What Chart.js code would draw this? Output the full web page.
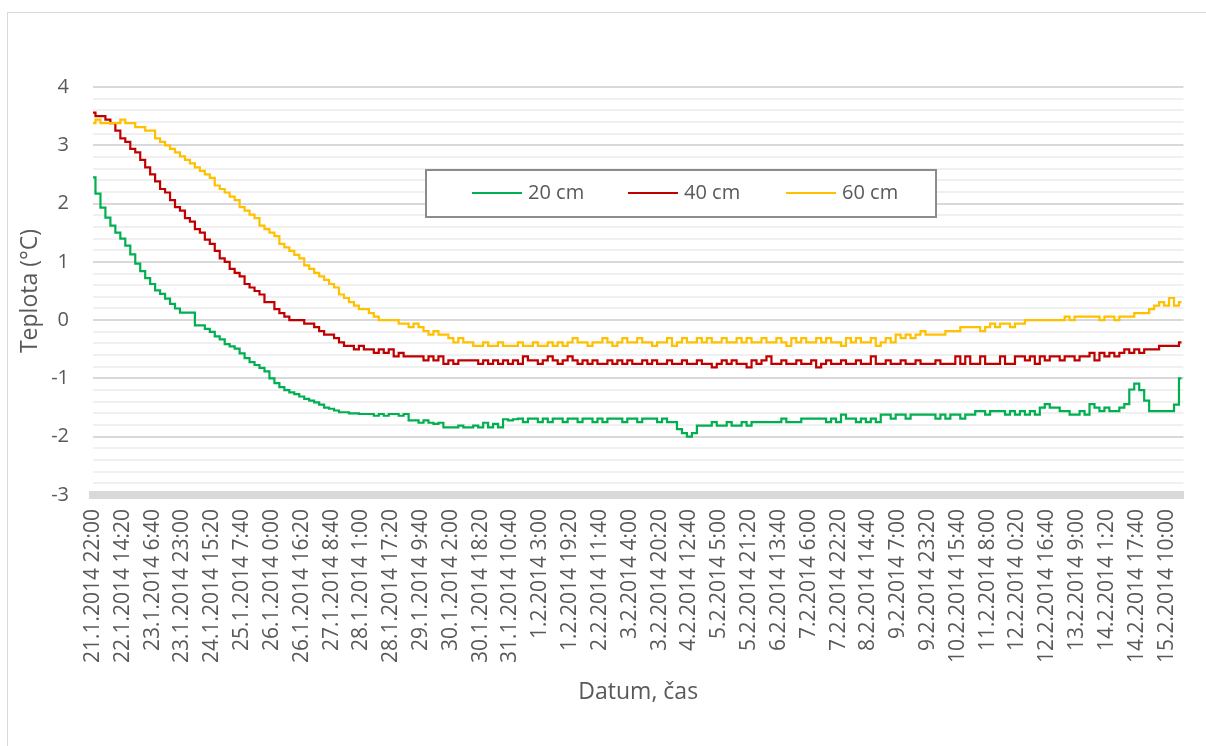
<!DOCTYPE html>
<html>
<head>
<meta charset="utf-8">
<title>Teplota půdy</title>
<script src="https://cdn.jsdelivr.net/npm/chart.js@4.4.1/dist/chart.umd.min.js"></script>
<style>
  html, body { margin: 0; padding: 0; background: #fff; }
  canvas { display: block; }
</style>
</head>
<body>
<canvas id="tempChart" width="1206" height="746"></canvas>
<script>
  // x-axis labels, one every 16 h 20 min
  const tickLabels = [
      '21.1.2014 22:00', '22.1.2014 14:20', '23.1.2014 6:40', '23.1.2014 23:00',
      '24.1.2014 15:20', '25.1.2014 7:40', '26.1.2014 0:00', '26.1.2014 16:20',
      '27.1.2014 8:40', '28.1.2014 1:00', '28.1.2014 17:20', '29.1.2014 9:40',
      '30.1.2014 2:00', '30.1.2014 18:20', '31.1.2014 10:40', '1.2.2014 3:00',
      '1.2.2014 19:20', '2.2.2014 11:40', '3.2.2014 4:00', '3.2.2014 20:20',
      '4.2.2014 12:40', '5.2.2014 5:00', '5.2.2014 21:20', '6.2.2014 13:40',
      '7.2.2014 6:00', '7.2.2014 22:20', '8.2.2014 14:40', '9.2.2014 7:00',
      '9.2.2014 23:20', '10.2.2014 15:40', '11.2.2014 8:00', '12.2.2014 0:20',
      '12.2.2014 16:40', '13.2.2014 9:00', '14.2.2014 1:20', '14.2.2014 17:40',
      '15.2.2014 10:00'
  ];

  // readings per label interval
  const samplesPerTick = 6;

  const seriesNames = ['20 cm', '40 cm', '60 cm'];
  const seriesColors = ['#00b050', '#c00000', '#ffc000'];

  // 20 cm
  const depth20 = [
      2.45, 2.17, 1.93, 1.76, 1.62, 1.50,
      1.40, 1.28, 1.13, 0.97, 0.84, 0.72,
      0.62, 0.51, 0.45, 0.37, 0.28, 0.20,
      0.13, 0.13, 0.13, -0.09, -0.09, -0.15,
      -0.20, -0.28, -0.33, -0.41, -0.45, -0.49,
      -0.57, -0.65, -0.72, -0.77, -0.82, -0.88,
      -1.00, -1.08, -1.15, -1.20, -1.24, -1.27,
      -1.31, -1.35, -1.38, -1.41, -1.45, -1.50,
      -1.52, -1.55, -1.58, -1.58, -1.60, -1.60,
      -1.61, -1.61, -1.61, -1.64, -1.61, -1.64,
      -1.61, -1.61, -1.64, -1.61, -1.72, -1.72,
      -1.76, -1.72, -1.76, -1.78, -1.76, -1.84,
      -1.84, -1.84, -1.81, -1.84, -1.84, -1.81,
      -1.84, -1.76, -1.84, -1.78, -1.84, -1.70,
      -1.72, -1.70, -1.69, -1.75, -1.69, -1.69,
      -1.75, -1.69, -1.75, -1.69, -1.69, -1.75,
      -1.69, -1.69, -1.75, -1.69, -1.69, -1.75,
      -1.69, -1.75, -1.69, -1.69, -1.69, -1.75,
      -1.69, -1.69, -1.75, -1.69, -1.69, -1.69,
      -1.75, -1.69, -1.75, -1.75, -1.87, -1.94,
      -2.00, -1.94, -1.81, -1.81, -1.81, -1.75,
      -1.81, -1.81, -1.75, -1.81, -1.81, -1.75,
      -1.81, -1.75, -1.75, -1.75, -1.75, -1.75,
      -1.75, -1.69, -1.75, -1.75, -1.75, -1.69,
      -1.69, -1.69, -1.69, -1.69, -1.75, -1.69,
      -1.75, -1.62, -1.69, -1.69, -1.75, -1.69,
      -1.75, -1.69, -1.75, -1.62, -1.62, -1.69,
      -1.62, -1.62, -1.69, -1.62, -1.62, -1.62,
      -1.62, -1.62, -1.69, -1.62, -1.69, -1.62,
      -1.62, -1.69, -1.62, -1.62, -1.56, -1.56,
      -1.62, -1.56, -1.56, -1.56, -1.62, -1.56,
      -1.62, -1.56, -1.62, -1.56, -1.62, -1.50,
      -1.44, -1.50, -1.50, -1.56, -1.56, -1.62,
      -1.62, -1.56, -1.62, -1.44, -1.50, -1.56,
      -1.50, -1.56, -1.56, -1.50, -1.44, -1.19,
      -1.09, -1.20, -1.38, -1.56, -1.56, -1.56,
      -1.56, -1.56, -1.45, -1.00
  ];

  // 40 cm
  const depth40 = [
      3.56, 3.50, 3.50, 3.44, 3.38, 3.25,
      3.12, 3.06, 2.94, 2.88, 2.75, 2.62,
      2.50, 2.38, 2.25, 2.19, 2.06, 1.94,
      1.88, 1.75, 1.69, 1.56, 1.50, 1.38,
      1.31, 1.19, 1.06, 1.00, 0.88, 0.81,
      0.75, 0.62, 0.56, 0.50, 0.44, 0.31,
      0.31, 0.19, 0.12, 0.06, 0.00, 0.00,
      0.00, -0.06, -0.06, -0.12, -0.19, -0.25,
      -0.25, -0.31, -0.38, -0.44, -0.44, -0.50,
      -0.44, -0.50, -0.50, -0.56, -0.50, -0.56,
      -0.50, -0.62, -0.56, -0.62, -0.62, -0.62,
      -0.62, -0.69, -0.62, -0.69, -0.62, -0.75,
      -0.69, -0.75, -0.69, -0.69, -0.69, -0.69,
      -0.75, -0.69, -0.75, -0.69, -0.75, -0.69,
      -0.75, -0.69, -0.75, -0.62, -0.69, -0.69,
      -0.75, -0.69, -0.62, -0.69, -0.75, -0.69,
      -0.62, -0.69, -0.75, -0.69, -0.75, -0.69,
      -0.75, -0.75, -0.69, -0.75, -0.69, -0.75,
      -0.69, -0.75, -0.75, -0.69, -0.75, -0.69,
      -0.75, -0.75, -0.69, -0.75, -0.75, -0.69,
      -0.75, -0.75, -0.69, -0.75, -0.75, -0.81,
      -0.75, -0.69, -0.75, -0.69, -0.75, -0.75,
      -0.81, -0.69, -0.75, -0.69, -0.62, -0.75,
      -0.75, -0.69, -0.75, -0.75, -0.69, -0.75,
      -0.75, -0.69, -0.81, -0.75, -0.69, -0.75,
      -0.75, -0.69, -0.75, -0.75, -0.69, -0.75,
      -0.75, -0.62, -0.75, -0.75, -0.69, -0.75,
      -0.75, -0.69, -0.75, -0.75, -0.69, -0.75,
      -0.75, -0.75, -0.69, -0.75, -0.75, -0.75,
      -0.62, -0.75, -0.62, -0.75, -0.75, -0.62,
      -0.75, -0.75, -0.75, -0.62, -0.75, -0.75,
      -0.62, -0.62, -0.69, -0.62, -0.75, -0.62,
      -0.69, -0.62, -0.62, -0.69, -0.62, -0.62,
      -0.69, -0.62, -0.62, -0.56, -0.69, -0.56,
      -0.62, -0.56, -0.62, -0.56, -0.50, -0.56,
      -0.50, -0.56, -0.50, -0.50, -0.50, -0.44,
      -0.44, -0.44, -0.44, -0.38
  ];

  // 60 cm
  const depth60 = [
      3.38, 3.44, 3.38, 3.38, 3.38, 3.38,
      3.44, 3.38, 3.38, 3.31, 3.31, 3.25,
      3.25, 3.12, 3.06, 3.00, 2.94, 2.88,
      2.81, 2.75, 2.69, 2.62, 2.56, 2.50,
      2.44, 2.31, 2.25, 2.19, 2.12, 2.06,
      1.94, 1.88, 1.81, 1.75, 1.62, 1.56,
      1.50, 1.44, 1.31, 1.25, 1.19, 1.12,
      1.06, 0.94, 0.88, 0.81, 0.75, 0.69,
      0.62, 0.56, 0.44, 0.38, 0.31, 0.25,
      0.19, 0.19, 0.12, 0.06, 0.00, 0.00,
      0.00, 0.00, -0.06, -0.06, -0.12, -0.06,
      -0.12, -0.19, -0.25, -0.19, -0.25, -0.25,
      -0.31, -0.38, -0.31, -0.38, -0.38, -0.44,
      -0.44, -0.38, -0.44, -0.44, -0.38, -0.44,
      -0.44, -0.44, -0.38, -0.44, -0.44, -0.38,
      -0.44, -0.44, -0.38, -0.44, -0.38, -0.44,
      -0.38, -0.31, -0.38, -0.38, -0.44, -0.38,
      -0.38, -0.31, -0.38, -0.44, -0.38, -0.31,
      -0.38, -0.38, -0.31, -0.38, -0.38, -0.44,
      -0.38, -0.38, -0.31, -0.44, -0.38, -0.31,
      -0.38, -0.38, -0.31, -0.38, -0.31, -0.38,
      -0.38, -0.31, -0.38, -0.38, -0.31, -0.38,
      -0.31, -0.38, -0.38, -0.31, -0.38, -0.38,
      -0.31, -0.38, -0.44, -0.31, -0.38, -0.31,
      -0.38, -0.38, -0.31, -0.38, -0.31, -0.38,
      -0.38, -0.44, -0.31, -0.38, -0.31, -0.38,
      -0.38, -0.31, -0.44, -0.38, -0.31, -0.38,
      -0.25, -0.31, -0.25, -0.31, -0.25, -0.19,
      -0.25, -0.25, -0.25, -0.25, -0.19, -0.19,
      -0.19, -0.12, -0.12, -0.12, -0.12, -0.19,
      -0.12, -0.06, -0.12, -0.06, -0.06, -0.12,
      -0.06, -0.06, 0.00, 0.00, 0.00, 0.00,
      0.00, 0.00, 0.00, 0.00, 0.06, 0.00,
      0.06, 0.06, 0.06, 0.06, 0.06, 0.00,
      0.06, 0.06, 0.00, 0.06, 0.06, 0.06,
      0.12, 0.12, 0.12, 0.19, 0.25, 0.31,
      0.25, 0.38, 0.25, 0.31
  ];

  const textColor = '#595959';
  const fontFamily = "'Open Sans', sans-serif";
  const isWhole = v => Math.abs(v - Math.round(v)) < 1e-6;

  const seriesData = [depth20, depth40, depth60];

  // white page + thin outer frame of the chart
  const frame = {
      id: 'frame',
      beforeDraw(chart) {
          const c = chart.ctx;
          c.save();
          c.fillStyle = '#fff';
          c.fillRect(0, 0, chart.width, chart.height);
          c.strokeStyle = '#d9d9d9';
          c.lineWidth = 1;
          c.strokeRect(7.5, 12.5, chart.width + 20, chart.height + 20);
          c.restore();
      }
  };

  // boxed legend sitting over the plot
  const boxLegend = {
      id: 'boxLegend',
      afterDatasetsDraw(chart) {
          const c = chart.ctx;
          c.save();
          c.fillStyle = '#fff';
          c.fillRect(426, 170, 510, 47);
          c.strokeStyle = '#8c8c8c';
          c.lineWidth = 2;
          c.strokeRect(426, 170, 510, 47);
          const starts = [472, 628, 786];
          c.font = '20px ' + fontFamily;
          c.textBaseline = 'middle';
          chart.data.datasets.forEach((ds, i) => {
              c.strokeStyle = ds.borderColor;
              c.lineWidth = 2;
              c.beginPath();
              c.moveTo(starts[i], 193);
              c.lineTo(starts[i] + 50, 193);
              c.stroke();
              c.fillStyle = textColor;
              c.fillText(ds.label, starts[i] + 56, 193);
          });
          c.restore();
      }
  };

  const ctx = document.getElementById('tempChart').getContext('2d');
  new Chart(ctx, {
      type: 'line',
      data: {
          datasets: seriesData.map((vals, i) => ({
              label: seriesNames[i],
              data: vals.map((v, j) => ({ x: j, y: v })),
              borderColor: seriesColors[i],
              backgroundColor: seriesColors[i],
              borderWidth: 2.2,
              pointRadius: 0,
              stepped: 'middle',
              fill: false,
              order: 3 - i
          }))
      },
      options: {
          responsive: false,
          animation: false,
          layout: {
              padding: { left: 0, right: 16, top: 87, bottom: 20 }
          },
          plugins: {
              legend: { display: false },
              tooltip: { enabled: false }
          },
          scales: {
              x: {
                  type: 'linear',
                  min: 0,
                  max: 219.4,
                  afterBuildTicks: scale => {
                      scale.ticks = tickLabels.map((_, i) => ({ value: i * samplesPerTick }));
                  },
                  afterFit: scale => { scale.height = 231; },
                  grid: { display: false, drawTicks: false },
                  border: { display: true, color: '#d9d9d9', width: 8 },
                  ticks: {
                      autoSkip: false,
                      minRotation: 90,
                      maxRotation: 90,
                      padding: 14,
                      color: textColor,
                      font: { family: fontFamily, size: 21 },
                      callback: v => tickLabels[Math.round(v / samplesPerTick)]
                  },
                  title: {
                      display: true,
                      text: 'Datum, čas',
                      color: textColor,
                      font: { family: fontFamily, size: 23 },
                      padding: { top: 0, bottom: 20 }
                  }
              },
              y: {
                  min: -3,
                  max: 4,
                  afterFit: scale => { scale.width = 93; },
                  grid: {
                      drawTicks: false,
                      color: c => isWhole(c.tick.value) ? '#d9d9d9' : '#f0f0f0',
                      lineWidth: 2
                  },
                  border: { display: false },
                  ticks: {
                      stepSize: 0.2,
                      autoSkip: false,
                      padding: 24,
                      color: textColor,
                      font: { family: fontFamily, size: 20 },
                      callback: v => isWhole(v) ? String(Math.round(v)) : ''
                  },
                  title: {
                      display: true,
                      text: 'Teplota (°C)',
                      color: textColor,
                      font: { family: fontFamily, size: 23 },
                      padding: { top: 17, bottom: 0 }
                  }
              }
          }
      },
      plugins: [frame, boxLegend]
  });
</script>
</body>
</html>
